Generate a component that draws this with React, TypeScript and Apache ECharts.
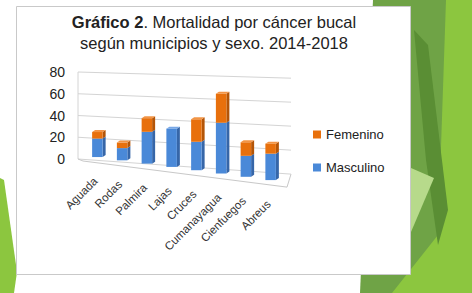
import React, { useEffect, useRef } from "react";
import * as echarts from "echarts";

const categories = ["Aguada", "Rodas", "Palmira", "Lajas", "Cruces", "Cumanayagua", "Cienfuegos", "Abreus"];
const masculino = [17, 11, 28, 33, 24, 42, 17, 21];
const femenino = [6, 5, 12, 0, 19, 24, 11, 8];
const yTicks = [0, 20, 40, 60, 80];
const titleLine1Bold = "Gráfico 2";
const titleLine1 = ". Mortalidad por cáncer bucal";
const titleLine2 = "según municipios y sexo. 2014-2018";

const FONT = '"Liberation Sans", Arial, sans-serif';

// perspective helpers (pixel-space transform applied after the axes' scales)
const BAR_X0 = 97;
const heightFactor = (cx: number) => 1 + (cx - BAR_X0) * 0.0009;
const floorOffset = (cx: number) => -2 + (cx - BAR_X0) * 0.133;

function barRenderer(front: string, side: string, top: string) {
  return (params: any, api: any) => {
    const i = api.value(0);
    const base = api.value(1);
    const v = api.value(2);
    const isTop = api.value(3);
    if (!v) return null;
    const p0 = api.coord([i, 0]);
    const pb = api.coord([i, base]);
    const pt = api.coord([i, base + v]);
    const cx = p0[0];
    const f = heightFactor(cx);
    const y0 = p0[1] + floorOffset(cx);
    const yb = y0 - (p0[1] - pb[1]) * f;
    const yt = y0 - (p0[1] - pt[1]) * f;
    const w = 10.5, dx = 3, dy = 2;
    const xl = cx - w / 2, xr = cx + w / 2;
    const children: any[] = [
      { type: "polygon", shape: { points: [[xr, yt], [xr + dx, yt - dy], [xr + dx, yb - dy], [xr, yb]] }, style: { fill: side } },
      { type: "rect", shape: { x: xl, y: yt, width: w, height: yb - yt }, style: { fill: front } },
    ];
    if (isTop) {
      children.push({ type: "polygon", shape: { points: [[xl, yt], [xl + dx, yt - dy], [xr + dx, yt - dy], [xr, yt]] }, style: { fill: top } });
    }
    return { type: "group", children };
  };
}

const gridRenderer = (params: any, api: any) => {
  const v = api.value(1);
  const cs = params.coordSys;
  const p = api.coord([0, v]);
  const xL = cs.x - 7;
  const xR = cs.x + cs.width + 8;
  const slope = 0.071 - v * 0.000525;
  const children: any[] = [
    { type: "line", shape: { x1: xL, y1: p[1], x2: xR, y2: p[1] + (xR - xL) * slope }, style: { stroke: "#d4d4d4", lineWidth: 1 } },
  ];
  if (v === 0) {
    const top = api.coord([0, 80]);
    children.push({ type: "line", shape: { x1: xL, y1: top[1], x2: xL, y2: p[1] }, style: { stroke: "#d4d4d4", lineWidth: 1 } });
    const fx1 = xL + 5, fy1 = p[1] + 2;
    const fx2 = xR - 4, fy2 = p[1] + 2 + (fx2 - fx1) * 0.128;
    children.push({ type: "polyline", shape: { points: [[xL, p[1]], [fx1, fy1], [fx2, fy2], [xR, p[1] + (xR - xL) * slope]] }, style: { stroke: "#c8c8c8", lineWidth: 1, fill: "none" } });
  }
  return { type: "group", children };
};

const labelRenderer = (params: any, api: any) => {
  const i = api.value(0);
  const p0 = api.coord([i, 0]);
  const cx = p0[0];
  const y = p0[1] + floorOffset(cx) + 22;
  return {
    type: "text",
    x: cx - 2,
    y,
    rotation: Math.PI / 4,
    style: {
      text: categories[i],
      align: "right",
      verticalAlign: "middle",
      textAlign: "right",
      textVerticalAlign: "middle",
      font: `11.5px ${FONT}`,
      fill: "#333",
    },
  };
};

export default function App() {
  const ref = useRef<HTMLDivElement>(null);
  useEffect(() => {
    if (!ref.current) return;
    const chart = echarts.init(ref.current, undefined, { renderer: "svg" });
    const option: any = {
      animation: false,
      backgroundColor: "#ffffff",
      graphic: [
        { type: "polygon", z: -10, shape: { points: [[373, 0], [472, 0], [472, 293], [360, 293]] }, style: { fill: "#6fa346" } },
        { type: "polygon", z: -9, shape: { points: [[446, 0], [472, 0], [472, 293], [392, 293], [438, 235]] }, style: { fill: "#8cc63f" } },
        { type: "polygon", z: -9, shape: { points: [[414, 30], [428, 45], [448, 210], [438, 245], [426, 160]] }, style: { fill: "#5a8e34" } },
        { type: "polygon", z: -9, shape: { points: [[411, 168], [434, 178], [411, 232]] }, style: { fill: "#b7da8b" } },
        { type: "polygon", z: -9, shape: { points: [[0, 178], [4, 180], [17, 272], [14, 293], [0, 293]] }, style: { fill: "#8cc63f" } },
        { type: "rect", z: -8, shape: { x: 16.5, y: 6.5, width: 394, height: 268 }, style: { fill: "#ffffff", stroke: "#c9c9c9", lineWidth: 1 } },
        {
          type: "text",
          x: 214,
          y: 22,
          style: {
            text: `{b|${titleLine1Bold}}{n|${titleLine1}}`,
            rich: {
              b: { fontFamily: FONT, fontSize: 16.5, fontWeight: "bold", fill: "#222", color: "#222" },
              n: { fontFamily: FONT, fontSize: 16.5, fill: "#222", color: "#222" },
            },
            align: "center",
            verticalAlign: "middle",
            textAlign: "center",
            textVerticalAlign: "middle",
          },
        },
        {
          type: "text",
          x: 214,
          y: 43,
          style: {
            text: titleLine2,
            font: `16.5px ${FONT}`,
            fill: "#222",
            align: "center",
            verticalAlign: "middle",
            textAlign: "center",
            textVerticalAlign: "middle",
          },
        },
      ],
      legend: {
        data: ["Femenino", "Masculino"],
        orient: "vertical",
        left: 313,
        top: 128,
        padding: 0,
        itemWidth: 8,
        itemHeight: 8,
        itemGap: 20,
        icon: "rect",
        textStyle: { fontFamily: FONT, fontSize: 13, color: "#222" },
      },
      grid: { left: 85, right: 189, top: 72, bottom: 134 },
      xAxis: {
        type: "category",
        data: categories,
        show: false,
      },
      yAxis: {
        type: "value",
        min: 0,
        max: 80,
        interval: 20,
        axisLine: { show: false },
        axisTick: { show: false },
        splitLine: { show: false },
        axisLabel: { margin: 20, fontFamily: FONT, fontSize: 14, color: "#222" },
      },
      series: [
        {
          type: "custom",
          name: "grid",
          renderItem: gridRenderer,
          data: yTicks.map((t) => [0, t]),
          silent: true,
          z: 1,
        },
        {
          type: "custom",
          name: "Masculino",
          renderItem: barRenderer("#4a89d8", "#3666a8", "#78a8e6"),
          itemStyle: { color: "#4a89d8" },
          data: masculino.map((v, i) => [i, 0, v, femenino[i] ? 0 : 1]),
          z: 3,
        },
        {
          type: "custom",
          name: "Femenino",
          renderItem: barRenderer("#e8700c", "#b45507", "#f29445"),
          itemStyle: { color: "#e8700c" },
          data: femenino.map((v, i) => [i, masculino[i], v, 1]),
          z: 3,
        },
        {
          type: "custom",
          name: "labels",
          renderItem: labelRenderer,
          data: categories.map((_, i) => [i, 0]),
          silent: true,
          z: 2,
        },
      ],
    };
    chart.setOption(option);
    return () => chart.dispose();
  }, []);
  return <div ref={ref} style={{ position: "absolute", left: 0, top: 0, width: 472, height: 293 }} />;
}
